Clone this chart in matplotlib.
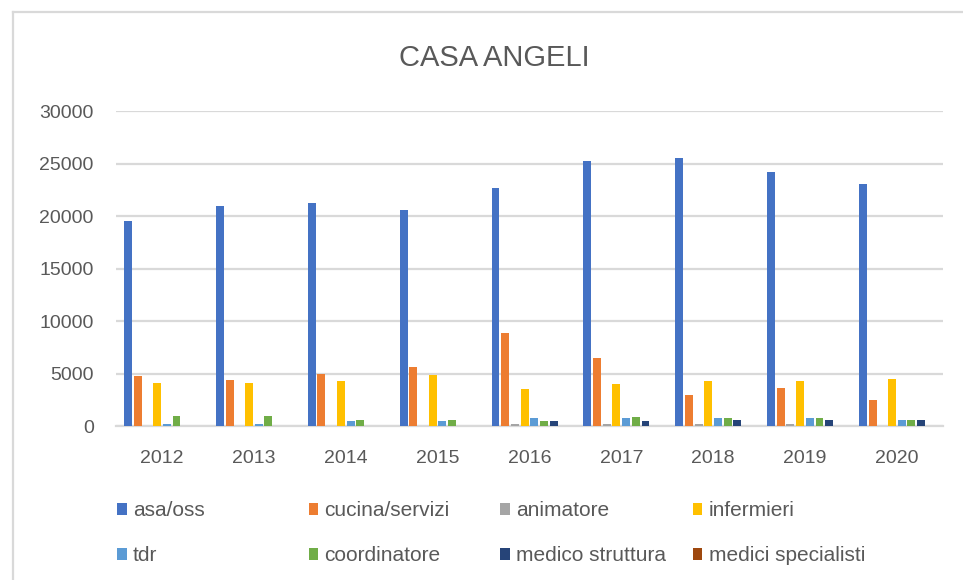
import numpy as np
from matplotlib import pyplot as plt
from matplotlib.lines import Line2D
from matplotlib.patches import Patch

years = ["2012", "2013", "2014", "2015", "2016", "2017", "2018", "2019", "2020"]

asa_oss = [19500, 20950, 21200, 20600, 22650, 25200, 25480, 24150, 23050]
cucina_servizi = [4780, 4400, 5000, 5640, 8820, 6470, 2930, 3630, 2450]
animatore = [0, 0, 0, 0, 220, 220, 220, 220, 0]
infermieri = [4140, 4140, 4270, 4900, 3530, 4010, 4270, 4270, 4490]
tdr = [220, 200, 480, 480, 730, 730, 730, 730, 570]
coordinatore = [960, 960, 570, 570, 480, 860, 730, 730, 570]
medico_struttura = [0, 0, 0, 0, 480, 480, 600, 600, 570]
medici_specialisti = [0, 0, 0, 0, 0, 0, 0, 0, 0]

labels = ["asa/oss", "cucina/servizi", "animatore", "infermieri",
          "tdr", "coordinatore", "medico struttura", "medici specialisti"]
series = [asa_oss, cucina_servizi, animatore, infermieri,
          tdr, coordinatore, medico_struttura, medici_specialisti]
colors = ["#4472C4", "#ED7D31", "#A5A5A5", "#FFC000",
          "#5B9BD5", "#70AD47", "#264478", "#9E480E"]

grey_text = "#595959"
grid_col = "#D9D9D9"
font = "Liberation Sans"

fig = plt.figure(figsize=(9.63, 5.8), dpi=100)
ax = fig.add_axes([0.1205, 0.2655, 0.8585, 0.5431])

x = np.arange(len(years))
slot = 0.1055
for i, (vals, col) in enumerate(zip(series, colors)):
    offs = (i - 3.5) * slot
    ax.bar(x + offs, vals, width=slot * 0.82, color=col, zorder=3)

ax.set_xlim(-0.5, len(years) - 0.5)
ax.set_ylim(0, 30000)
ax.set_yticks(range(0, 30001, 5000))
ax.set_xticks(x)
ax.set_xticklabels(years)
ax.yaxis.grid(True, color=grid_col, linewidth=1.6, zorder=0)
ax.set_axisbelow(True)
for s in ["top", "right", "left"]:
    ax.spines[s].set_visible(False)
ax.spines["bottom"].set_color(grid_col)
ax.spines["bottom"].set_linewidth(1.6)
ax.tick_params(axis="both", length=0, labelsize=14, labelcolor=grey_text)
ax.tick_params(axis="x", pad=17)
ax.tick_params(axis="y", pad=16)
for t in ax.get_xticklabels() + ax.get_yticklabels():
    t.set_fontfamily(font)

fig.text(0.513, 0.900, "CASA ANGELI", ha="center", va="center",
         fontsize=21, color=grey_text, family=font)

# legend: four equal-width columns, two rows
col_x = [0.113, 0.312, 0.511, 0.711]
for c in range(4):
    handles = [Patch(facecolor=colors[c]), Patch(facecolor=colors[c + 4])]
    fig.legend(handles, [labels[c], labels[c + 4]],
               loc="upper left", bbox_to_anchor=(col_x[c], 0.150),
               frameon=False, ncol=1, handlelength=0.45, handleheight=0.55,
               handletextpad=0.3, labelspacing=1.25, borderaxespad=0,
               prop={"family": font, "size": 15}, labelcolor=grey_text)

# chart border (left and top edges visible)
fig.add_artist(Line2D([13 / 963, 13 / 963], [0, 1 - 12 / 580],
                      color=grid_col, linewidth=1.6, transform=fig.transFigure))
fig.add_artist(Line2D([13 / 963, 1], [1 - 12 / 580, 1 - 12 / 580],
                      color=grid_col, linewidth=1.6, transform=fig.transFigure))

fig.savefig("out.png", dpi=100, facecolor="white")
